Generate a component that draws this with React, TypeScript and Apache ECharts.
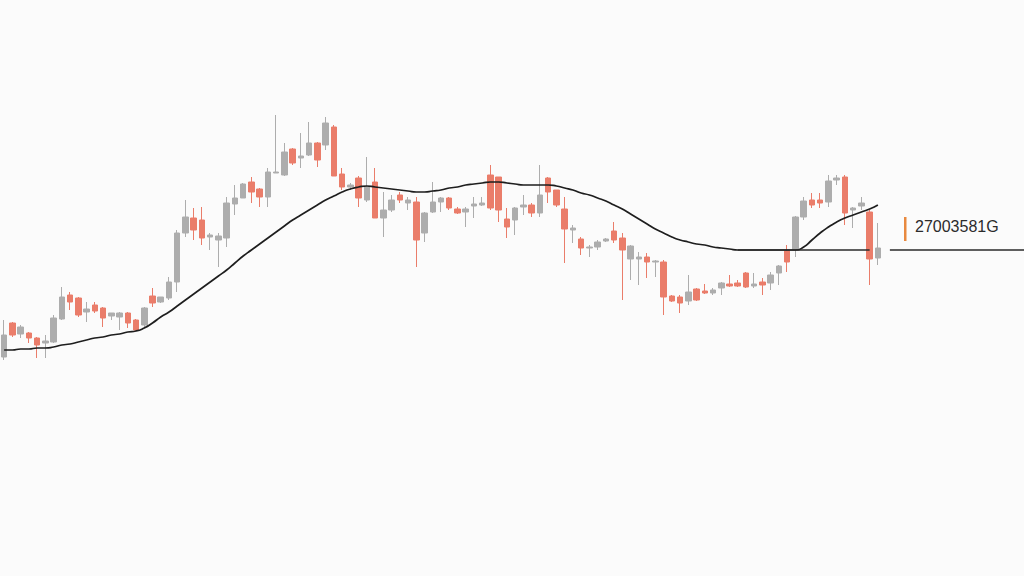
import React, { useEffect, useRef } from "react";
import * as echarts from "echarts";

// Candles: [open, close, low, high]
const candles: number[][] = [
  [219, 241, 216, 256], [253, 241, 239, 254], [242, 249, 238, 251], [243, 238, 233, 244],
  [238, 231, 218, 239], [233, 235, 218, 241], [234, 258, 233, 261], [257, 279, 256, 289],
  [281, 274, 266, 284], [278, 261, 259, 279], [264, 267, 254, 274], [271, 265, 263, 274],
  [268, 258, 249, 269], [260, 263, 256, 263], [259, 263, 246, 264], [263, 253, 248, 264],
  [256, 246, 245, 257], [251, 268, 249, 269], [280, 273, 269, 288], [274, 279, 273, 279],
  [278, 294, 276, 299], [294, 343, 284, 346], [343, 359, 339, 376], [358, 346, 336, 368],
  [356, 338, 331, 369], [339, 341, 326, 343], [336, 340, 309, 343], [338, 373, 329, 379],
  [372, 378, 361, 391], [378, 392, 378, 393], [394, 384, 373, 399], [387, 379, 369, 388],
  [379, 404, 369, 408], [403, 404, 403, 461], [401, 424, 400, 433], [427, 413, 411, 428],
  [418, 420, 408, 443], [421, 433, 420, 454], [433, 416, 409, 434], [431, 453, 426, 459],
  [449, 400, 400, 451], [402, 389, 386, 408], [389, 391, 386, 393], [398, 378, 369, 400],
  [376, 389, 374, 419], [394, 358, 358, 408], [358, 366, 339, 384], [366, 376, 364, 381],
  [381, 376, 373, 384], [373, 376, 366, 379], [374, 336, 309, 379], [343, 363, 334, 364],
  [364, 374, 363, 394], [374, 378, 364, 379], [378, 368, 366, 379], [367, 363, 362, 369],
  [364, 367, 349, 369], [370, 372, 358, 379], [371, 373, 370, 379], [401, 368, 366, 411],
  [399, 366, 354, 399], [357, 349, 338, 368], [356, 368, 341, 369], [369, 371, 361, 381],
  [371, 363, 359, 373], [363, 381, 359, 411], [398, 384, 373, 399], [386, 371, 369, 386],
  [367, 347, 313, 379], [346, 348, 333, 351], [337, 328, 321, 339], [328, 329, 319, 331],
  [329, 334, 326, 336], [335, 337, 334, 338], [345, 336, 333, 354], [338, 326, 276, 343],
  [317, 330, 296, 331], [317, 319, 291, 324], [319, 314, 298, 323], [314, 315, 299, 316],
  [314, 279, 261, 316], [280, 275, 274, 281], [279, 273, 263, 281], [275, 284, 271, 301],
  [287, 276, 275, 288], [285, 283, 282, 292], [283, 286, 281, 288], [288, 293, 281, 294],
  [292, 290, 289, 301], [293, 290, 289, 296], [303, 289, 288, 304], [290, 292, 288, 303],
  [294, 291, 281, 298], [293, 301, 286, 304], [303, 310, 291, 311], [325, 314, 304, 331],
  [326, 359, 319, 360], [359, 375, 356, 379], [376, 371, 368, 383], [376, 373, 368, 383],
  [374, 395, 369, 401], [396, 398, 391, 401], [399, 363, 351, 401], [366, 368, 348, 369],
  [370, 373, 366, 379], [364, 317, 291, 366], [318, 328, 311, 353],
];

const movingAverage: number[] = [
  226, 226, 227, 227, 228, 228, 229, 231, 232, 234, 236, 238, 239, 241, 242, 244, 245,
  248, 253, 259, 264, 270, 276, 282, 288, 294, 300,
  306, 313, 320, 326, 332, 338, 344, 350, 356, 361, 366, 371, 376, 380, 384, 387, 389, 390,
  389, 388, 387, 386, 385, 384, 384, 385, 386, 388, 389, 391, 392, 393, 394, 394, 393, 392, 391, 391,
  391, 391, 390, 388, 386, 383, 381, 378, 375, 371, 367, 362, 357, 352, 347, 343,
  339, 336, 334, 332, 331, 329, 328, 327, 326, 326, 326, 326, 326, 326, 326,
  326, 329, 336, 343, 349, 354, 358, 361, 364, 367, 371,
];

const categories: string[] = candles.map((_, i) => String(i + 1));
const PRICE_LINE = 326;
const PRICE_LABEL = "27003581G";
const PRICE_LINE_START = 89;

const GREY = "#adadad";
const RED = "#ea7d6a";

export default function App() {
  const ref = useRef<HTMLDivElement>(null);
  useEffect(() => {
    if (!ref.current) return;
    const chart = echarts.init(ref.current, undefined, { renderer: "svg" });
    chart.setOption({
      animation: false,
      backgroundColor: "#fbfbfb",
      grid: { left: 0, top: 0, width: 882, height: 576 },
      xAxis: {
        type: "category",
        data: categories,
        boundaryGap: true,
        show: false,
      },
      yAxis: { type: "value", min: 0, max: 576, show: false },
      series: [
        {
          type: "candlestick",
          data: candles,
          barWidth: 6,
          itemStyle: {
            color: GREY,
            color0: RED,
            borderColor: GREY,
            borderColor0: RED,
            borderWidth: 1,
          },
        },
        {
          type: "line",
          data: movingAverage,
          smooth: 0.6,
          symbol: "none",
          lineStyle: { color: "#1e1e1e", width: 1.7 },
          z: 5,
        },
      ],
    });
    const y = chart.convertToPixel({ yAxisIndex: 0 }, PRICE_LINE) as number;
    const xStart = chart.convertToPixel({ xAxisIndex: 0 }, PRICE_LINE_START) as number;
    const xEnd1 = chart.convertToPixel({ xAxisIndex: 0 }, candles.length - 2) as number;
    const xLast = chart.convertToPixel({ xAxisIndex: 0 }, candles.length - 1) as number;
    chart.setOption({
      graphic: [
        {
          type: "line",
          shape: { x1: xStart, y1: y, x2: xEnd1, y2: y },
          style: { stroke: "#2a2a2a", lineWidth: 1.6 },
          z: 10,
        },
        {
          type: "line",
          shape: { x1: xLast + 12, y1: y, x2: 1024, y2: y },
          style: { stroke: "#2a2a2a", lineWidth: 1.6 },
          z: 10,
        },
        {
          type: "rect",
          shape: { x: 904, y: y - 33, width: 2.5, height: 24 },
          style: { fill: "#e8893f" },
          z: 10,
        },
        {
          type: "text",
          x: 915,
          y: y - 24,
          style: {
            text: PRICE_LABEL,
            fill: "#2b2b2b",
            font: "16px 'Liberation Sans', Arial, sans-serif",
            verticalAlign: "middle",
            align: "left",
          },
          z: 10,
        },
      ],
    });
    return () => chart.dispose();
  }, []);
  return (
    <div
      ref={ref}
      style={{ position: "fixed", left: 0, top: 0, width: 1024, height: 576 }}
    />
  );
}
